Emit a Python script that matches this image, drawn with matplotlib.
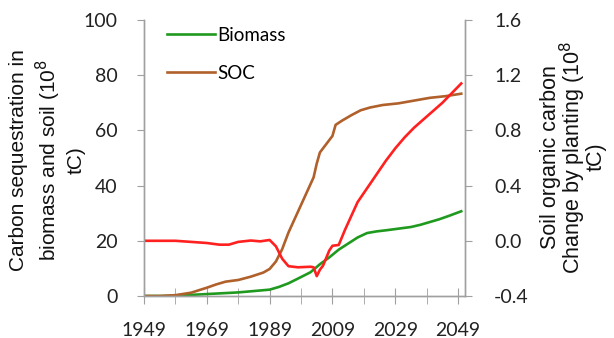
import matplotlib
matplotlib.use("Agg")
import matplotlib.pyplot as plt
from matplotlib.ticker import MultipleLocator, FixedLocator, FuncFormatter

plt.rcParams['axes.unicode_minus'] = False

# ---- data ----
biomass_years = [1949, 1955, 1959, 1964, 1969, 1974, 1979, 1984, 1989, 1992, 1995, 1998,
                 2002, 2005, 2008, 2011, 2014, 2017, 2020, 2023, 2026, 2030, 2034, 2037,
                 2040, 2043, 2046, 2050]
biomass = [0, 0, 0.1, 0.4, 0.7, 1.0, 1.3, 1.8, 2.3, 3.3, 4.6, 6.3,
           8.6, 11.5, 14.0, 16.8, 19.0, 21.2, 22.8, 23.4, 23.8, 24.4, 25.0, 25.8,
           26.8, 27.8, 29.0, 30.7]

soc_years = [1949, 1954, 1959, 1964, 1969, 1972, 1975, 1979, 1983, 1987, 1989, 1991,
             1993, 1995, 1997, 1999, 2001, 2003, 2004, 2005, 2007, 2009, 2010, 2012,
             2015, 2018, 2021, 2025, 2030, 2035, 2040, 2045, 2050]
soc = [0, 0, 0.3, 1.2, 3.0, 4.2, 5.2, 5.8, 7.0, 8.5, 9.8, 12.5,
       17, 23, 28, 33, 38, 43, 48, 52, 55, 58, 62, 63.5,
       65.5, 67.3, 68.3, 69.2, 69.8, 70.8, 71.8, 72.4, 73.3]

soc_change_years = [1949, 1959, 1964, 1969, 1973, 1976, 1979, 1983, 1986, 1989, 1991, 1993,
                    1995, 1998, 2002, 2003, 2004, 2005, 2006, 2008, 2009, 2011, 2013, 2015,
                    2017, 2020, 2023, 2026, 2029, 2032, 2035, 2038, 2041, 2044, 2047, 2050]
soc_change = [0.0, 0.0, -0.008, -0.016, -0.028, -0.028, -0.008, 0.002, -0.004, 0.006, -0.04, -0.13,
              -0.184, -0.192, -0.188, -0.192, -0.256, -0.21, -0.18, -0.07, -0.036, -0.03, 0.08, 0.18,
              0.28, 0.38, 0.48, 0.58, 0.67, 0.75, 0.82, 0.88, 0.94, 1.0, 1.07, 1.14]

x_major = [1949, 1969, 1989, 2009, 2029, 2049]
x_minor = [1959, 1979, 1999, 2019, 2039]
left_ticks = [0, 20, 40, 60, 80, 100]
right_ticks = [-0.4, 0.0, 0.4, 0.8, 1.2, 1.6]

GREEN = '#1f9a1f'
BROWN = '#b0602a'
RED = '#ff2020'
GRAY = '#a0a0a0'
TICKFONT = 'Lato'
LABELFONT = 'Liberation Sans'

fig = plt.figure(figsize=(6.14, 3.38), dpi=100)
ax = fig.add_axes([144/614, 1-296/338, (465-144)/614, (296-20)/338])
ax2 = ax.twinx()

ax.plot(biomass_years, biomass, color=GREEN, lw=1.9, label='Biomass')
ax.plot(soc_years, soc, color=BROWN, lw=1.9, label='SOC')
ax2.plot(soc_change_years, soc_change, color=RED, lw=1.9)

ax.set_xlim(1949, 2051.2)
ax.set_ylim(0, 100)
ax2.set_ylim(-0.4, 1.6)

ax.xaxis.set_major_locator(FixedLocator(x_major))
ax.xaxis.set_minor_locator(FixedLocator(x_minor))
ax.set_xticklabels([str(v) for v in x_major])
ax.set_yticks(left_ticks)
ax2.set_yticks(right_ticks)
ax2.yaxis.set_major_formatter(FuncFormatter(lambda v, p: f"{v:.1f}"))

for a in (ax, ax2):
    for s in a.spines.values():
        s.set_color(GRAY)
        s.set_linewidth(1.0)
    a.spines['top'].set_visible(False)

ax.tick_params(axis='x', which='both', direction='inout', length=11, color=GRAY,
               labelsize=14, pad=13)
ax.tick_params(axis='y', direction='out', length=5, color=GRAY, labelsize=14, pad=14)
ax2.tick_params(axis='y', direction='out', length=5, color=GRAY, labelsize=14, pad=16)
for lab in ax.get_xticklabels() + ax.get_yticklabels() + ax2.get_yticklabels():
    lab.set_fontfamily(TICKFONT)
    lab.set_color('#222222')

leg = ax.legend(loc='upper left', bbox_to_anchor=(0.072, 0.975), frameon=False,
                prop={'family': TICKFONT, 'size': 13.5}, handlelength=2.55,
                handletextpad=0.12, labelspacing=1.12, borderaxespad=0, borderpad=0)

fig.text(47/614, 1-160/338, "Carbon sequestration in\nbiomass and soil (10$^8$\ntC)",
         rotation=90, ha='center', va='center', fontsize=15, family=LABELFONT,
         linespacing=1.25, color='#111111')
fig.text(573/614, 1-157/338, "Soil organic carbon\nChange by planting (10$^8$\ntC)",
         rotation=90, ha='center', va='center', fontsize=15.5, family=LABELFONT,
         linespacing=0.85, color='#111111')

fig.savefig('out.png', dpi=100)
